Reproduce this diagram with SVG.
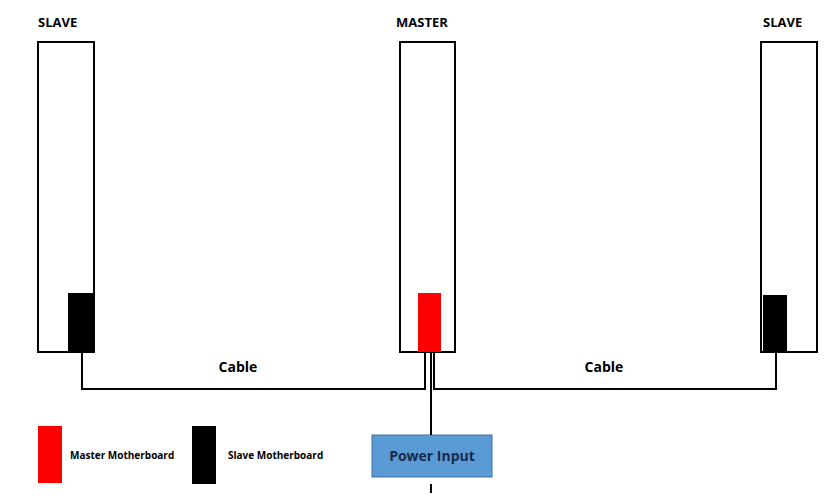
<svg xmlns="http://www.w3.org/2000/svg" width="829" height="500" viewBox="0 0 829 500">
<style>
.box{fill:#fff;stroke:#000;stroke-width:2}
.t{font-family:"Open Sans","Liberation Sans",sans-serif;font-weight:bold;fill:#000}
.w{fill:none;stroke:#000;stroke-width:2}
</style>
<rect width="829" height="500" fill="#fff"/>
<g id="slave-left"><rect class="box" x="38" y="42" width="56" height="310"/><rect x="68" y="293" width="25" height="59" fill="#000"/><text class="t" x="38" y="27" font-size="13">SLAVE</text></g>
<g id="master"><rect class="box" x="400" y="42" width="55" height="310"/><rect x="418" y="293" width="23" height="59" fill="#f00"/><text class="t" x="396" y="27" font-size="13">MASTER</text></g>
<g id="slave-right"><rect class="box" x="761" y="42" width="56" height="310"/><rect x="763" y="295" width="24" height="57" fill="#000"/><text class="t" x="763" y="27" font-size="13">SLAVE</text></g>
<g id="power"><rect x="372" y="435" width="120" height="42" fill="#5b9bd5" stroke="#41719c"/><text x="432" y="461" text-anchor="middle" class="t" font-size="14" fill="#1f2d4a" style="fill:#1a2a4a">Power Input</text></g>
<g id="legend">
<rect x="38" y="426" width="24" height="57" fill="#f00"/><text class="t" x="70" y="459" font-size="10">Master Motherboard</text>
<rect x="192" y="426" width="24" height="58" fill="#000"/><text class="t" x="228" y="459" font-size="10">Slave Motherboard</text>
</g>
<g id="connectors">
<polyline class="w" points="82,352 82,389 425,389 425,352"/>
<polyline class="w" points="434,352 434,389 776,389 776,352"/>
<line class="w" x1="431" y1="352" x2="431" y2="435"/>
<line class="w" x1="431" y1="484" x2="431" y2="493"/>
<text class="t" x="238" y="372" font-size="14" text-anchor="middle">Cable</text>
<text class="t" x="604" y="372" font-size="14" text-anchor="middle">Cable</text>
</g>
</svg>
